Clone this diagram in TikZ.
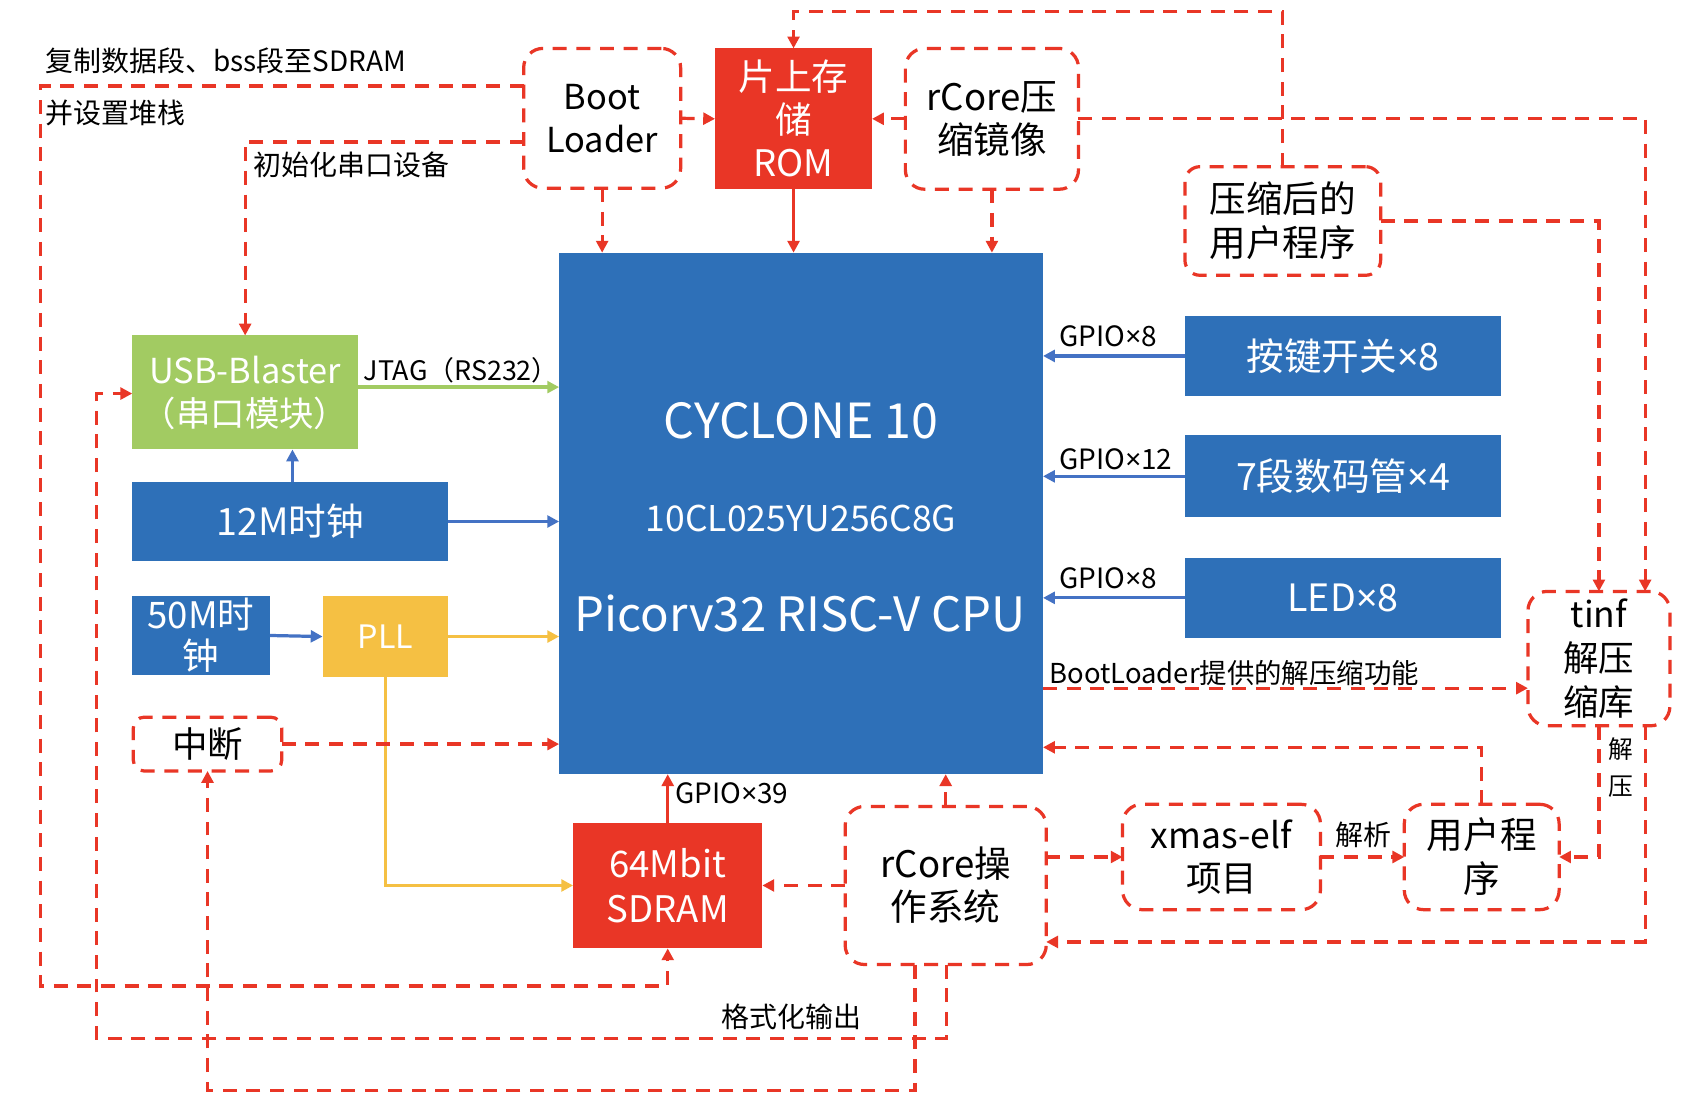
\documentclass[tikz,border=0pt]{standalone}
\usepackage{fontspec}
\setmainfont{Noto Sans CJK SC}
\newfontfamily\latinx{Noto Sans}
\usetikzlibrary{arrows.meta}
\definecolor{cred}{HTML}{E93626}
\definecolor{cblue}{HTML}{2E70B8}
\definecolor{lblue}{HTML}{4472C4}
\definecolor{cgreen}{HTML}{A2CB62}
\definecolor{cyellow}{HTML}{F5C043}
\newcommand\fs[2]{\fontsize{#1}{#2}\selectfont}
\newcommand\tms{{\latinx ×}}
\begin{document}
\begin{tikzpicture}[x=1pt,y=-1pt,
  box/.style={inner sep=0pt, outer sep=0pt, anchor=north west, align=center},
  fillbox/.style={box, fill=#1, text=white},
  dbox/.style={box, draw=cred, line width=3pt, dash pattern=on 13pt off 9pt, rounded corners=18pt, text=black},
  darr/.style={draw=cred, line width=3pt, dash pattern=on 13pt off 9pt, -{Triangle[length=11pt,width=11pt]}},
  sarr/.style={line width=3pt, -{Triangle[length=11pt,width=11pt]}},
  lbl/.style={inner sep=0pt, text=black, font=\fs{26}{30}},
]
\fill[white] (0,0) rectangle (1568,1021);
\useasboundingbox (0,0) rectangle (1568,1021);

% boxes
\node[dbox, minimum width=146pt, minimum height=130pt, font=\fs{32}{40}] (boot) at (487,45) {Boot\\Loader};
\node[fillbox=cred, minimum width=146pt, minimum height=131pt, font=\fs{34}{40}] (rom) at (665,45) {片上存\\储\\ROM};
\node[dbox, minimum width=161pt, minimum height=131pt, font=\fs{34}{40}] (rimg) at (842,45) {rCore压\\缩镜像};
\node[dbox, rounded corners=14pt, minimum width=182pt, minimum height=101pt, font=\fs{34}{41}] (cuser) at (1102,155) {压缩后的\\用户程序};
\node[fillbox=cblue, minimum width=450pt, minimum height=485pt] (cpu) at (520,235) {};
\node[inner sep=0pt, text=white, anchor=base, font=\fs{45}{50}] (cpu1) at (745,408) {CYCLONE 10};
\node[inner sep=0pt, text=white, anchor=base, font=\fs{33}{40}] (cpu2) at (745,494) {10CL025YU256C8G};
\node[inner sep=0pt, text=white, anchor=base, font=\fs{44}{50}] (cpu3) at (744,587) {Picorv32 RISC-V CPU};
\node[fillbox=cgreen, minimum width=210pt, minimum height=106pt, font=\fs{32}{40}] (usb) at (123,312) {USB-Blaster\\（串口模块）};
\node[fillbox=cblue, minimum width=294pt, minimum height=74pt, font=\fs{35}{40}] (clk12) at (123,448) {12M时钟};
\node[fillbox=cblue, minimum width=128pt, minimum height=74pt, font=\fs{34}{38}] (clk50) at (123,554) {50M时\\钟};
\node[fillbox=cyellow, minimum width=117pt, minimum height=76pt, font=\fs{30}{40}] (pll) at (300,554) {PLL};
\node[dbox, rounded corners=10pt, minimum width=138pt, minimum height=50pt, font=\fs{33}{40}] (intr) at (124,667) {中断};
\node[fillbox=cblue, minimum width=294pt, minimum height=74pt, font=\fs{35}{40}] (key) at (1102,294) {按键开关\tms 8};
\node[fillbox=cblue, minimum width=294pt, minimum height=76pt, font=\fs{35}{40}] (seg) at (1102,405) {7段数码管\tms 4};
\node[fillbox=cblue, minimum width=294pt, minimum height=74pt, font=\fs{35}{40}] (led) at (1102,519) {LED\tms 8};
\node[dbox, minimum width=132pt, minimum height=125pt, font=\fs{33}{41}] (tinf) at (1421,550) {tinf\\解压\\缩库};
\node[fillbox=cred, minimum width=176pt, minimum height=117pt, font=\fs{34}{42}] (sdram) at (533,765) {64Mbit\\SDRAM};
\node[dbox, minimum width=187pt, minimum height=147pt, font=\fs{34}{40}] (rcos) at (786,750) {rCore操\\作系统};
\node[dbox, minimum width=184pt, minimum height=98pt, font=\fs{33}{40}] (xmas) at (1044,748) {xmas-elf\\项目};
\node[dbox, minimum width=144pt, minimum height=98pt, font=\fs{34}{41}] (user) at (1306,748) {用户程\\序};

% labels
\node[lbl, anchor=west] (l1) at (42,57) {复制数据段、bss段至SDRAM};
\node[lbl, anchor=west] (l2) at (42,105) {并设置堆栈};
\node[lbl, anchor=west] (l3) at (236,153) {初始化串口设备};
\node[lbl, anchor=west, font=\fs{25}{28}] (l4) at (338,344) {JTAG（RS232）};
\node[lbl, anchor=west] (l5) at (985,313) {GPIO\tms 8};
\node[lbl, anchor=west] (l6) at (985,427) {GPIO\tms 12};
\node[lbl, anchor=west] (l7) at (985,538) {GPIO\tms 8};
\node[lbl, anchor=west, font=\fs{25.5}{28}] (l8) at (976,626) {BootLoader提供的解压缩功能};
\node[lbl, anchor=west] (l9) at (628,738) {GPIO\tms 39};
\node[lbl] (l10) at (1268,776) {解析};
\node[lbl, align=center, font=\fs{23}{34}] (l11) at (1507,714) {解\\压};
\node[lbl] (l12) at (736,946) {格式化输出};

% connectors
\draw[darr] (boot.west |- 0,80) -| (38,917) -| (sdram.south);
\draw[darr] (boot.west |- 0,132) -| (usb.north);
\draw[darr] (boot.east) -- (rom.west);
\draw[darr] (rimg.west) -- (rom.east);
\draw[darr] (boot.south) -- (boot.south |- cpu.north);
\draw[sarr, cred] (rom.south) -- (rom.south |- cpu.north);
\draw[darr] (rimg.south) -- (rimg.south |- cpu.north);
\draw[darr] (rimg.east) -| (tinf.north -| 1530,0);
\draw[darr] (cuser.north) |- (rom.north |- 0,11) -- (rom.north);
\draw[darr] (cuser.east) -| (tinf.north);
\draw[sarr, cgreen] (usb.east |- 0,360) -- (cpu.west |- 0,360);
\draw[sarr, lblue] (clk12.north -| 272,0) -- (usb.south -| 272,0);
\draw[sarr, lblue] (clk12.east) -- (clk12.east -| cpu.west);
\draw[sarr, lblue] (clk50.east) -- (pll.west);
\draw[sarr, cyellow] (pll.east) -- (pll.east -| cpu.west);
\draw[sarr, cyellow] (pll.south) |- (sdram.west);
\draw[darr] (intr.east) -- (intr.east -| cpu.west);
\draw[sarr, lblue] (key.west) -- (key.west -| cpu.east);
\draw[sarr, lblue] (seg.west) -- (seg.west -| cpu.east);
\draw[sarr, lblue] (led.west) -- (led.west -| cpu.east);
\draw[darr] (cpu.east |- 0,640) -- (tinf.west |- 0,640);
\draw[sarr, cred] (sdram.north) -- (sdram.north |- cpu.south);
\draw[darr] (rcos.west |- sdram.east) -- (sdram.east);
\draw[darr] (rcos.north) -- (rcos.north |- cpu.south);
\draw[darr] (rcos.east |- 0,797) -- (xmas.west |- 0,797);
\draw[darr] (xmas.east) -- (user.west);
\draw[darr] (user.north) |- (cpu.east |- 0,695);
\draw[darr] (tinf.south) |- (user.east);
\draw[darr] (tinf.south -| 1530,0) |- (rcos.east |- 0,876);
\draw[darr] (rcos.south -| 880,0) |- (90,966) |- (usb.west |- 0,366);
\draw[darr] (rcos.south -| 851,0) |- (intr.south |- 0,1014) -- (intr.south);
\end{tikzpicture}
\end{document}
